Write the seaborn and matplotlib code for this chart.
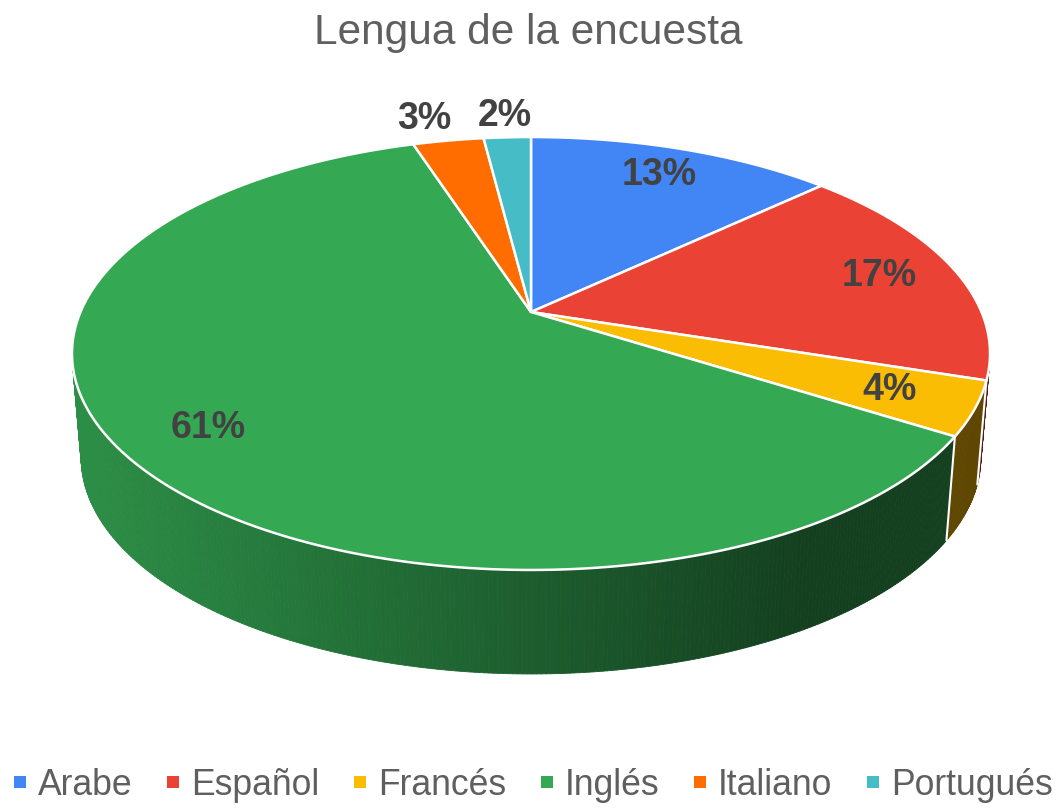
import numpy as np
import matplotlib
matplotlib.use('Agg')
import matplotlib.pyplot as plt
from matplotlib.collections import PolyCollection
from matplotlib.colors import to_rgb
from matplotlib.lines import Line2D
import seaborn as sns

# data
languages = ['Arabe', 'Español', 'Francés', 'Inglés', 'Italiano', 'Portugués']
shares = [13, 17, 4, 61, 3, 2]
colors = ['#4285f4', '#ea4335', '#fbbc04', '#34a853', '#ff6d01', '#46bdc6']

sns.set_theme(style='white')
plt.rcParams['font.family'] = ['Liberation Sans', 'DejaVu Sans']

# perspective used to put the unit disc on the canvas (pixels)
CX, CY = 531, 312
RX, RY, PERSP = 450.5, 148.7, 0.1917
DEPTH, SHRINK = 104, 0.98


def project(u, v, bottom=False):
    w = 1 + PERSP * v
    x = CX + RX * u / w
    y = (CY - RY * v) / w
    if bottom:
        x = CX + (x - CX) * SHRINK
        y = y + DEPTH
    return x, y


def shade(x):
    # side wall gets darker to the right
    return np.clip(0.85 - 0.45 * (x - 72) / 700, 0.38, 0.85)


fig = plt.figure(figsize=(10.64, 8.08), dpi=100)
ax = fig.add_axes([0, 0, 1, 1])
ax.set_xlim(0, 1064)
ax.set_ylim(808, 0)
ax.axis('off')

total = sum(shares)
cum = np.concatenate([[0], np.cumsum(shares)])
starts = 90 - 360 * cum[:-1] / total
ends = 90 - 360 * cum[1:] / total

# side wall, painted far to near
quads, quad_cols, keys = [], [], []
for t0, t1, col in zip(starts, ends, colors):
    n = max(int(abs(t0 - t1) * 2), 2)
    ang = np.radians(np.linspace(t0, t1, n + 1))
    base = np.array(to_rgb(col))
    for a0, a1 in zip(ang[:-1], ang[1:]):
        p0 = project(np.cos(a0), np.sin(a0))
        p1 = project(np.cos(a1), np.sin(a1))
        q0 = project(np.cos(a0), np.sin(a0), bottom=True)
        q1 = project(np.cos(a1), np.sin(a1), bottom=True)
        quads.append([p0, p1, q1, q0])
        quad_cols.append(base * shade((p0[0] + p1[0]) / 2))
        keys.append(np.sin((a0 + a1) / 2))
order = np.argsort(keys)[::-1]
wall = PolyCollection([quads[i] for i in order],
                      facecolors=[quad_cols[i] for i in order],
                      edgecolors=[quad_cols[i] for i in order], linewidths=0.6)
ax.add_collection(wall)

# white seams on the visible wall
for t in starts:
    a = np.radians(t)
    if np.sin(a) < -PERSP:
        p = project(np.cos(a), np.sin(a))
        q = project(np.cos(a), np.sin(a), bottom=True)
        ax.plot([p[0], q[0]], [p[1], q[1]], color='white', lw=1.5)

# top face
for t0, t1, col in zip(starts, ends, colors):
    ang = np.radians(np.linspace(t0, t1, 200))
    xs, ys = project(np.cos(ang), np.sin(ang))
    ax.fill(np.r_[CX, xs], np.r_[CY, ys], facecolor=col, edgecolor='white',
            lw=1.8, joinstyle='round')

# percentage labels
label_pos = []
for t0, t1, s in zip(starts, ends, shares):
    a = np.radians((t0 + t1) / 2)
    r = 0.82 if s >= 4 else 1.15
    label_pos.append(list(project(r * np.cos(a), r * np.sin(a))))
# push the small outside labels apart
for i in range(len(shares) - 1, 0, -1):
    if shares[i] < 4 and shares[i - 1] < 4:
        gap = label_pos[i][0] - label_pos[i - 1][0]
        if gap < 80:
            label_pos[i - 1][0] -= 80 - gap
for (x, y), s in zip(label_pos, shares):
    ax.text(x, y, f'{s}%', ha='center', va='center', fontsize=27,
            fontweight='bold', color='#424242')

ax.text(528, 44, 'Lengua de la encuesta', ha='center', va='baseline',
        fontsize=30.5, color='#5f5f5f')

handles = [Line2D([], [], ls='none', marker='s', markersize=8.6,
                  markeredgewidth=0, color=c) for c in colors]
fig.legend(handles, languages, loc='lower center', bbox_to_anchor=(0.5, 0.0),
           ncol=6, frameon=False, fontsize=25.6, handlelength=0.5,
           handletextpad=0.25, columnspacing=0.9, labelcolor='#5f5f5f',
           borderaxespad=0.0, borderpad=0.15)

fig.savefig('out.png', dpi=100)
